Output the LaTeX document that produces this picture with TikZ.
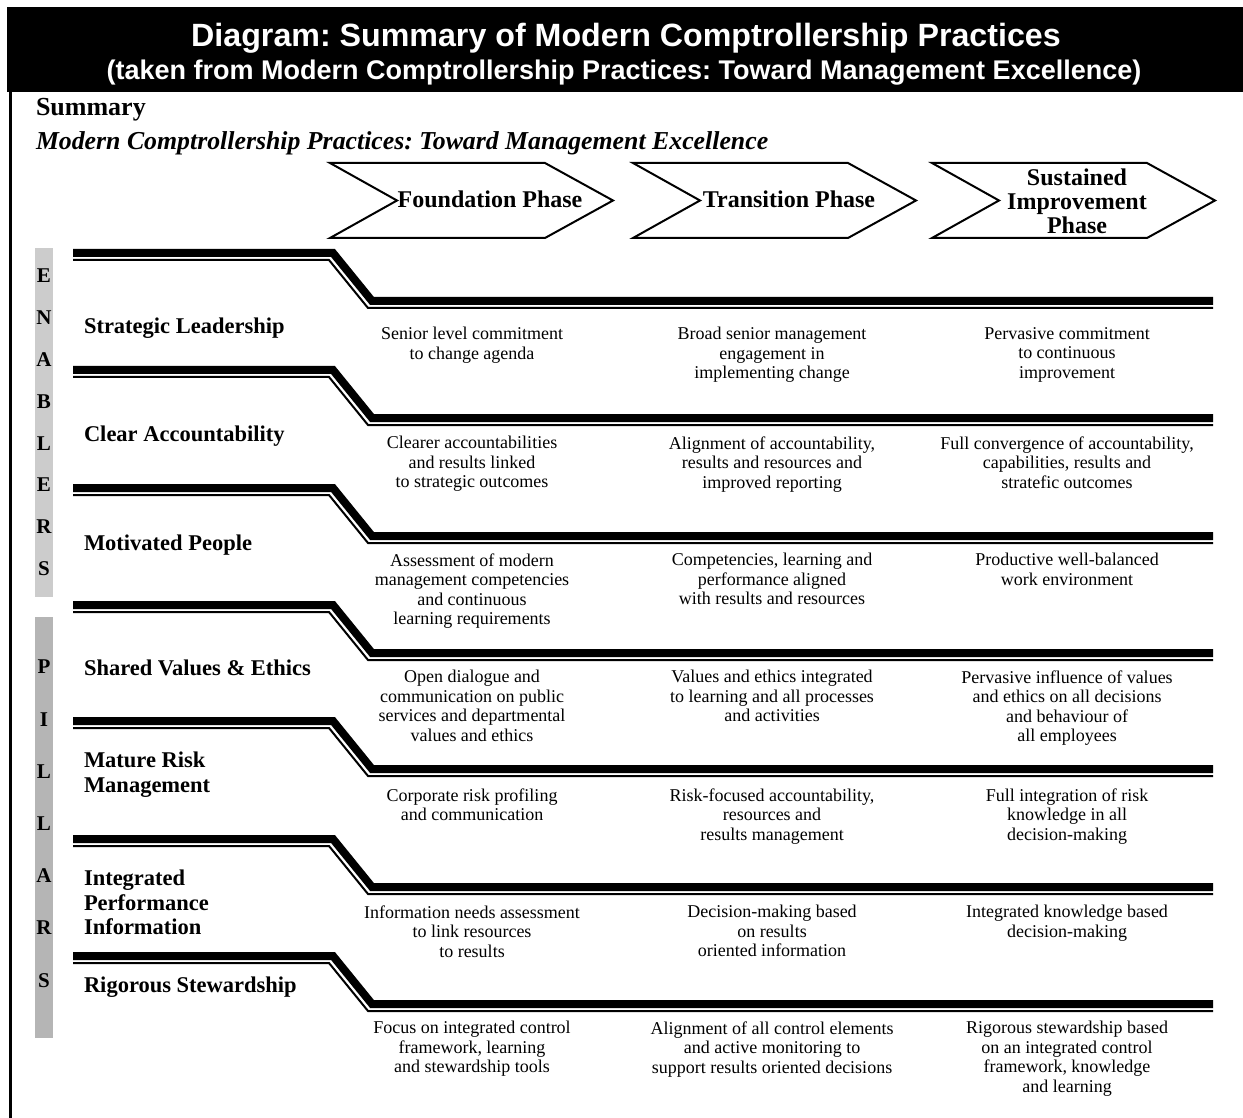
\documentclass[tikz,border=0pt]{standalone}
\usepackage{fontspec}
\setmainfont{Liberation Serif}
\newfontfamily\headfont{Liberation Sans}
\usetikzlibrary{positioning}
\frenchspacing

\begin{document}
\begin{tikzpicture}
	[x=0.5pt,y=-0.5pt,
	every node/.style={inner sep=0pt,outer sep=0pt},
	headtext/.style={anchor=base,text=white,font=\headfont\bfseries},
	rowlabel/.style={anchor=west,align=left,font=\bfseries\fontsize{11.25}{12.25}\selectfont},
	celltext/.style={anchor=north,align=center,font=\fontsize{9}{9.75}\selectfont},
	phasebox/.style={draw,line width=1pt,line join=miter,fill=white},
	phasetext/.style={align=center,font=\bfseries\fontsize{12}{12}\selectfont},
	barletter/.style={font=\bfseries\fontsize{10.5}{10.5}\selectfont},
	stepthick/.style={line width=4pt,line join=miter},
	stepthin/.style={line width=1pt,line join=miter}]
	\useasboundingbox (0,0) rectangle (1243,1118);
	% header
	\fill (7,7) rectangle (1243,92);
	\draw[line width=1.5pt] (10,92) -- (10,1118);
	\node[headtext,font=\headfont\bfseries\fontsize{16.1}{16.1}\selectfont] (title) at (626,47) {Diagram: Summary of Modern Comptrollership Practices};
	\node[headtext,font=\headfont\bfseries\fontsize{13.5}{13.5}\selectfont] (source) at (624,80) {(taken from Modern Comptrollership Practices: Toward Management Excellence)};
	\node[anchor=base west,font=\bfseries\fontsize{13}{13}\selectfont] (summary) at (36,116) {Summary};
	\node[anchor=base west,font=\bfseries\itshape\fontsize{12.9}{12.9}\selectfont] (subtitle) at (36,150) {Modern Comptrollership Practices: Toward Management Excellence};
	% side bars
	\fill[black!20] (35,248) rectangle (53,597);
	\fill[black!29] (35,617) rectangle (53,1038);
	\foreach \ch [count=\i] in {E,N,A,B,L,E,R,S}
		\node[barletter] (enab\i) at (44,{276+41.8*(\i-1)}) {\ch};
	\foreach \ch [count=\i] in {P,I,L,L,A,R,S}
		\node[barletter] (pill\i) at (44,{667+52.2*(\i-1)}) {\ch};
	% phases
	\foreach \l in {330,633,932}
		\draw[phasebox] (\l,163) -- (\l+215,163) -- (\l+283,200.5) -- (\l+215,238) -- (\l,238) -- (\l+67,200.5) -- cycle;
	\node[phasetext] (found) at (490,199) {Foundation Phase};
	\node[phasetext] (trans) at (789,199) {Transition Phase};
	\node[phasetext] (sust) at (1077,201) {Sustained\\Improvement\\Phase};
	% step lines
	\foreach \y in {253,370,488,605,721,839,956} {
		\draw[stepthick] (73,\y) -- (333,\y) -- (372,\y+48) -- (1213,\y+48);
		\draw[stepthin] (73,\y+7) -- (329,\y+7) -- (368,\y+55) -- (1213,\y+55);
	}
	% row labels
	\node[rowlabel] (lead) at (84,328) {Strategic Leadership};
	\node[rowlabel] (acct) at (84,436) {Clear Accountability};
	\node[rowlabel] (people) at (84,545) {Motivated People};
	\node[rowlabel] (values) at (84,668) {Shared Values \& Ethics};
	\node[rowlabel] (risk) at (84,774.5) {Mature Risk\\Management};
	\node[rowlabel] (perf) at (84,902.5) {Integrated\\Performance\\Information};
	\node[rowlabel] (stew) at (84,987) {Rigorous Stewardship};
	% cells
	\node[celltext] (lead1) at (472,327.5) {Senior level commitment\\to change agenda};
	\node[celltext] (lead2) at (772,327.5) {Broad senior management\\engagement in\\implementing change};
	\node[celltext] (lead3) at (1067,327.5) {Pervasive commitment\\to continuous\\improvement};
	\node[celltext] (acct1) at (472,436.5) {Clearer accountabilities\\and results linked\\to strategic outcomes};
	\node[celltext] (acct2) at (772,436.5) {Alignment of accountability,\\results and resources and\\improved reporting};
	\node[celltext] (acct3) at (1067,436.5) {Full convergence of accountability,\\capabilities, results and\\stratefic outcomes};
	\node[celltext] (people1) at (472,553.5) {Assessment of modern\\management competencies\\and continuous\\learning requirements};
	\node[celltext] (people2) at (772,553.5) {Competencies, learning and\\performance aligned\\with results and resources};
	\node[celltext] (people3) at (1067,553.5) {Productive well-balanced\\work environment};
	\node[celltext] (values1) at (472,670.5) {Open dialogue and\\communication on public\\services and departmental\\values and ethics};
	\node[celltext] (values2) at (772,670.5) {Values and ethics integrated\\to learning and all processes\\and activities};
	\node[celltext] (values3) at (1067,670.5) {Pervasive influence of values\\and ethics on all decisions\\and behaviour of\\all employees};
	\node[celltext] (risk1) at (472,788.5) {Corporate risk profiling\\and communication};
	\node[celltext] (risk2) at (772,788.5) {Risk-focused accountability,\\resources and\\results management};
	\node[celltext] (risk3) at (1067,788.5) {Full integration of risk\\knowledge in all\\decision-making};
	\node[celltext] (perf1) at (472,905.5) {Information needs assessment\\to link resources\\to results};
	\node[celltext] (perf2) at (772,905.5) {Decision-making based\\on results\\oriented information};
	\node[celltext] (perf3) at (1067,905.5) {Integrated knowledge based\\decision-making};
	\node[celltext] (stew1) at (472,1021.5) {Focus on integrated control\\framework, learning\\and stewardship tools};
	\node[celltext] (stew2) at (772,1021.5) {Alignment of all control elements\\and active monitoring to\\support results oriented decisions};
	\node[celltext] (stew3) at (1067,1021.5) {Rigorous stewardship based\\on an integrated control\\framework, knowledge\\and learning};
\end{tikzpicture}
\end{document}
